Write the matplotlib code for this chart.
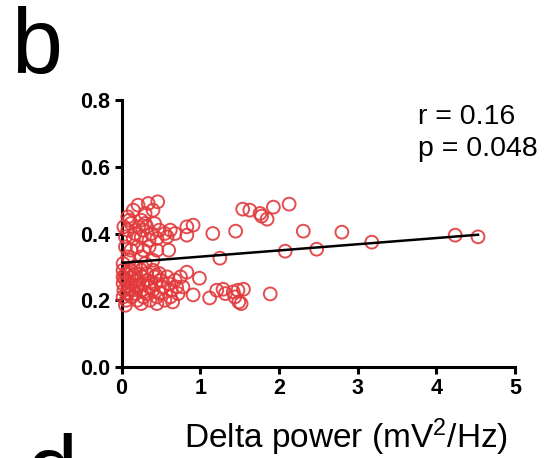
import matplotlib
matplotlib.use("Agg")
import matplotlib.pyplot as plt
import numpy as np

plt.rcParams['font.family'] = ['Liberation Sans', 'DejaVu Sans']
plt.rcParams['mathtext.fontset'] = 'custom'
plt.rcParams['mathtext.rm'] = 'Liberation Sans'
plt.rcParams['mathtext.default'] = 'regular'

# ---- data ----
delta_power = [
    # upper-left group
    0.15, 0.21, 0.30, 0.34, 0.46, 0.40, 0.08, 0.25,
    # ~0.4 band near zero
    0.03, 0.08, 0.12, 0.17, 0.22, 0.27, 0.32, 0.38, 0.42, 0.48, 0.55, 0.62,
    0.05, 0.15, 0.25, 0.35, 0.45, 0.58, 0.68, 0.83, 0.91, 0.83, 0.10, 0.30,
    # 0.33-0.37
    0.05, 0.12, 0.20, 0.28, 0.35, 0.45, 0.60, 0.08, 0.25,
    # ~0.31
    0.02, 0.10, 0.18, 0.30, 0.40, 1.25,
    # dense low cluster
    0.02, 0.02, 0.02, 0.03, 0.02, 0.06, 0.07, 0.08, 0.07, 0.06,
    0.12, 0.13, 0.12, 0.14, 0.13, 0.18, 0.19, 0.20, 0.18, 0.20,
    0.25, 0.26, 0.27, 0.25, 0.28, 0.32, 0.33, 0.35, 0.32, 0.36,
    0.40, 0.42, 0.43, 0.40, 0.45, 0.48, 0.50, 0.52, 0.50, 0.55,
    0.58, 0.60, 0.63, 0.62, 0.68, 0.70, 0.72, 0.75, 0.83, 0.99,
    0.78, 0.91, 0.05, 0.25, 0.45, 0.65,
    0.04, 0.10, 0.16, 0.22, 0.29, 0.37, 0.44,
    # low right group
    1.12, 1.21, 1.29, 1.32, 1.42, 1.48, 1.55, 1.44, 1.49, 1.52, 1.89,
    # mid 0.4
    1.16, 1.45, 2.31, 2.80,
    # upper right group
    1.54, 1.63, 1.76, 1.78, 1.85, 1.93, 2.13,
    # near line
    2.08, 2.48, 3.18, 4.24, 4.53,
]
values = [
    0.47, 0.485, 0.46, 0.49, 0.495, 0.47, 0.45, 0.44,
    0.42, 0.41, 0.43, 0.40, 0.42, 0.41, 0.42, 0.40, 0.43, 0.41, 0.40, 0.41,
    0.39, 0.385, 0.39, 0.38, 0.385, 0.39, 0.40, 0.42, 0.425, 0.395, 0.44, 0.43,
    0.36, 0.35, 0.36, 0.35, 0.36, 0.35, 0.35, 0.33, 0.33,
    0.31, 0.32, 0.30, 0.31, 0.32, 0.326,
    0.29, 0.27, 0.25, 0.23, 0.21, 0.28, 0.26, 0.24, 0.22, 0.20,
    0.29, 0.27, 0.25, 0.23, 0.21, 0.28, 0.26, 0.24, 0.22, 0.20,
    0.29, 0.27, 0.25, 0.23, 0.21, 0.28, 0.26, 0.24, 0.22, 0.20,
    0.29, 0.27, 0.25, 0.23, 0.21, 0.28, 0.26, 0.24, 0.22, 0.20,
    0.27, 0.25, 0.23, 0.21, 0.26, 0.24, 0.22, 0.27, 0.284, 0.266,
    0.24, 0.216, 0.185, 0.19, 0.19, 0.195,
    0.265, 0.235, 0.275, 0.245, 0.225, 0.255, 0.275,
    0.207, 0.23, 0.233, 0.22, 0.225, 0.23, 0.233, 0.21, 0.195, 0.19, 0.219,
    0.40, 0.407, 0.407, 0.404,
    0.473, 0.47, 0.46, 0.452, 0.443, 0.479, 0.488,
    0.347, 0.353, 0.374, 0.395, 0.39,
]
fit_intercept = 0.312
fit_slope = 0.0186
fit_range = [0.0, 4.53]
r_text = "r = 0.16"
p_text = "p = 0.048"
xticks = [0, 1, 2, 3, 4, 5]
yticks = [0.0, 0.2, 0.4, 0.6, 0.8]

fig = plt.figure(figsize=(5.47, 4.58), dpi=100)
ax = fig.add_axes([121.5 / 547, (458 - 367) / 458, (515 - 121.5) / 547, (367 - 100) / 458])

ax.scatter(delta_power, values, s=85, facecolors='none', edgecolors='#e23a3c',
           linewidths=1.4, clip_on=False, zorder=3, alpha=0.9)
fx = np.array(fit_range)
ax.plot(fx, fit_intercept + fit_slope * fx, color='black', lw=1.8, zorder=4)

ax.set_xlim(0, 5)
ax.set_ylim(0, 0.8)
ax.set_xticks(xticks)
ax.set_xticklabels([str(t) for t in xticks])
ax.set_yticks(yticks)
ax.set_yticklabels([f"{t:.1f}" for t in yticks])
for s in ['top', 'right']:
    ax.spines[s].set_visible(False)
for s in ['left', 'bottom']:
    ax.spines[s].set_linewidth(2.2)
ax.tick_params(direction='out', length=5, width=2.2, labelsize=15.5, pad=3)
for lab in ax.get_xticklabels() + ax.get_yticklabels():
    lab.set_fontweight('bold')

ax.text(3.77, 0.748, r_text, fontsize=20.5, va='center', ha='left')
ax.text(3.77, 0.652, p_text, fontsize=20.5, va='center', ha='left')

fig.text(346 / 547, 1 - 437 / 458, "Delta power (mV$^2$/Hz)", fontsize=24,
         ha='center', va='center')
fig.text(11 / 547, 1 - 73 / 458, "b", fontsize=66, ha='left', va='baseline')
fig.text(26 / 547, 1 - 500 / 458, "d", fontsize=66, ha='left', va='baseline')

fig.savefig("out.png", dpi=100)
